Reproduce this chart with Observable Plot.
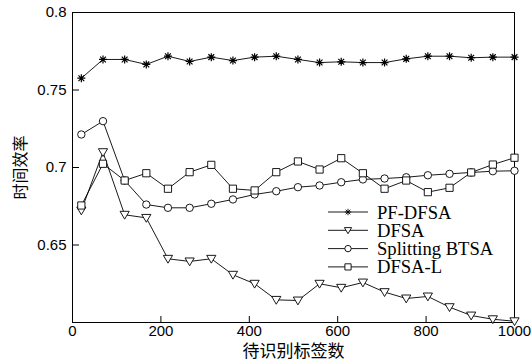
<!DOCTYPE html>
<html><head><meta charset="utf-8">
<script src="https://cdn.jsdelivr.net/npm/d3@7"></script>
<script src="https://cdn.jsdelivr.net/npm/@observablehq/plot@0.6"></script>
<style>body{margin:0;background:#fff}</style>
</head><body><div id="chart"></div>
<script>
const xs = [20,69,118,167,216,265,314,363,412,461,510,559,608,657,706,755,804,853,902,951,1000];
const pfDFSA = [0.7576,0.7697,0.7697,0.7665,0.7718,0.7684,0.7712,0.7690,0.7712,0.7718,0.7697,0.7677,0.7682,0.7677,0.7677,0.7701,0.7718,0.7718,0.7708,0.7712,0.7712];
const dfsa = [0.6723,0.7099,0.6695,0.6675,0.6411,0.6394,0.6411,0.6308,0.6250,0.6146,0.6142,0.6250,0.6224,0.6258,0.6196,0.6155,0.6168,0.6099,0.6045,0.6021,0.6008];
const splitBTSA = [0.7213,0.7299,0.6916,0.6761,0.6740,0.6740,0.6766,0.6794,0.6826,0.6847,0.6873,0.6884,0.6905,0.6923,0.6929,0.6937,0.6950,0.6959,0.6968,0.6976,0.6979];
const dfsaL = [0.6755,0.7024,0.6916,0.6963,0.6863,0.6970,0.7017,0.6863,0.6852,0.6970,0.7039,0.6987,0.7060,0.6963,0.6863,0.6916,0.6841,0.6869,0.6968,0.7019,0.7063];
const seriesNames = ["PF-DFSA","DFSA","Splitting BTSA","DFSA-L"];
const xTicks = [0,200,400,600,800,1000];
const yTicks = [0.65,0.7,0.75,0.8];
const xLabel = "待识别标签数";
const yLabel = "时间效率";

const rad = s => Math.sqrt(s / Math.PI);
const starSym = {draw(c, s){const a=rad(s), b=a*0.72; c.moveTo(-a,0);c.lineTo(a,0);c.moveTo(0,-a);c.lineTo(0,a);c.moveTo(-b,-b);c.lineTo(b,b);c.moveTo(-b,b);c.lineTo(b,-b);}};
const triSym = {draw(c, s){const a=rad(s); c.moveTo(-a,-a*0.75);c.lineTo(a,-a*0.75);c.lineTo(0,a*0.95);c.closePath();}};
const circSym = {draw(c, s){const a=rad(s); c.moveTo(a,0);c.arc(0,0,a,0,2*Math.PI);c.closePath();}};
const sqSym = {draw(c, s){const a=rad(s); c.rect(-a,-a,2*a,2*a);}};
const symbols = [starSym, triSym, circSym, sqSym];
const sizes = [4, 4.6, 3.7, 3.6];
const values = [pfDFSA, dfsa, splitBTSA, dfsaL];

const marks = [Plot.frame({stroke:"black", strokeWidth:1})];
values.forEach((vals, i) => {
  const data = xs.map((x, j) => ({x, y: vals[j]}));
  marks.push(Plot.line(data, {x:"x", y:"y", stroke:"black", strokeWidth:0.9}));
  marks.push(Plot.dot(data, {x:"x", y:"y", symbol: symbols[i], r: sizes[i], stroke:"black", fill: i===0 ? "none" : "white", strokeWidth: i===0 ? 1.2 : 0.9}));
});
marks.push(
  Plot.axisX({ticks:xTicks, tickSize:0, tickPadding:3, label:null, tickFormat:d=>String(d), fontSize:15}),
  Plot.axisX({ticks:xTicks.slice(1,-1), tickSize:6, dy:-6, text:null, label:null}),
  Plot.axisY({ticks:yTicks, tickSize:0, tickPadding:6, label:null, tickFormat:d=>String(d), fontSize:15}),
  Plot.axisY({ticks:yTicks.slice(0,-1), tickSize:7, dx:7, text:null, label:null}),
  Plot.text([xLabel], {frameAnchor:"bottom", lineAnchor:"middle", textAnchor:"middle", dy:29, fontSize:17, fill:"black"}),
  Plot.text([yLabel], {frameAnchor:"left", lineAnchor:"middle", textAnchor:"middle", dx:-52, rotate:-90, fontSize:16, fill:"black"})
);

const chart = Plot.plot({
  width:531, height:362,
  marginLeft:72, marginRight:17, marginTop:12, marginBottom:40,
  style:{fontFamily:"'Liberation Sans', Arial, sans-serif", fontSize:"15px", color:"black", background:"white"},
  x:{domain:[0,1000]},
  y:{domain:[0.6,0.8]},
  marks
});
chart.querySelectorAll("text").forEach(t=>{ if (/[\u4e00-\u9fff]/.test(t.textContent)) t.style.fontFamily="'Noto Sans CJK SC', sans-serif"; });
document.getElementById("chart").appendChild(chart);

// legend
const svg = d3.select(chart);
const lg = svg.append("g").attr("font-family","'Liberation Serif', 'Times New Roman', serif").attr("font-size",18.6).attr("text-anchor","start");
const legSizes = [3.2, 3.6, 3.2, 3.1];
seriesNames.forEach((name, i) => {
  const y = 212 + i*18.3;
  const g = lg.append("g").attr("transform", `translate(0,${y})`);
  g.append("line").attr("x1",328).attr("x2",368).attr("stroke","black").attr("stroke-width",0.9);
  const sz = Math.PI*legSizes[i]*legSizes[i];
  g.append("path").attr("transform","translate(348,0)").attr("d", d3.symbol(symbols[i], sz)()).attr("stroke","black").attr("stroke-width",0.9).attr("fill", i===0?"none":"white");
  g.append("text").attr("x",377).attr("dy","0.35em").attr("text-anchor","start").text(name);
});
</script></body></html>
